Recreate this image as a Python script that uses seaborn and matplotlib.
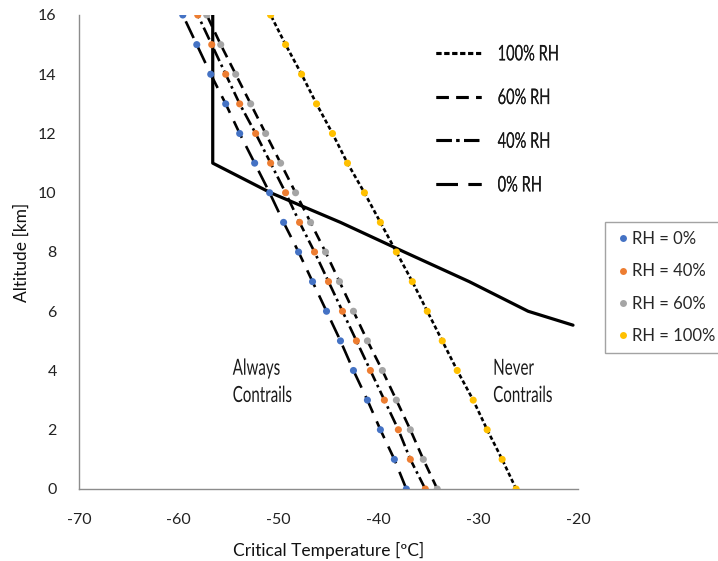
import seaborn as sns
import matplotlib.pyplot as plt
from matplotlib.lines import Line2D
from matplotlib.patheffects import AbstractPathEffect
from matplotlib.transforms import Affine2D

# Critical (Schmidt-Appleman) temperature vs altitude for several relative humidities
altitude_km = [0, 1, 2, 3, 4, 5, 6, 7, 8, 9, 10, 11, 12, 13, 14, 15, 16]
t_crit_rh0 = [-37.2, -38.4, -39.8, -41.1, -42.5, -43.8, -45.2, -46.6, -48.0,
              -49.5, -50.9, -52.4, -53.9, -55.3, -56.8, -58.2, -59.6]
t_crit_rh40 = [-35.3, -36.8, -38.0, -39.4, -40.8, -42.2, -43.6, -45.0, -46.4,
               -47.9, -49.3, -50.8, -52.3, -53.9, -55.3, -56.7, -58.1]
t_crit_rh60 = [-34.1, -35.5, -36.8, -38.2, -39.6, -41.1, -42.5, -43.9, -45.3,
               -46.8, -48.3, -49.8, -51.3, -52.8, -54.3, -55.8, -57.2]
t_crit_rh100 = [-26.2, -27.6, -29.1, -30.5, -32.1, -33.6, -35.1, -36.6, -38.2,
                -39.8, -41.4, -43.1, -44.6, -46.2, -47.7, -49.3, -50.8]

# Ambient temperature profile (standard-atmosphere like, isothermal above 11 km)
ambient_alt_km = [16, 11, 10, 9, 8, 7, 6, 5.53]
ambient_temp = [-56.6, -56.6, -50.8, -43.8, -37.4, -30.9, -25.0, -20.5]

series_labels = ["RH = 0%", "RH = 40%", "RH = 60%", "RH = 100%"]
line_labels = ["100% RH", "60% RH", "40% RH", "0% RH"]
x_ticks = [-70, -60, -50, -40, -30, -20]
y_ticks = [0, 2, 4, 6, 8, 10, 12, 14, 16]

colors = ["#4472C4", "#ED7D31", "#A5A5A5", "#FFC000"]
dash_styles = {
    "0% RH": (0, (7, 3.5)),
    "40% RH": (0, (5, 1.5, 1, 1.5)),
    "60% RH": (0, (4, 2.5)),
    "100% RH": (0, (1.6, 1.0)),
}


class Squeeze(AbstractPathEffect):
    """Draw glyphs horizontally condensed (narrow lettering)."""

    def __init__(self, sx):
        super().__init__()
        self.sx = sx

    def draw_path(self, renderer, gc, tpath, affine, rgbFace=None):
        renderer.draw_path(gc, tpath, Affine2D().scale(self.sx, 1.0) + affine,
                           rgbFace)


sns.set_theme(style="white")
plt.rcParams["font.family"] = ["Lato", "DejaVu Sans"]

fig = plt.figure(figsize=(7.18, 5.61), dpi=100)
ax = fig.add_axes([79 / 718, 72 / 561, 499 / 718, 474 / 561])

series = [
    (t_crit_rh0, "0% RH"),
    (t_crit_rh40, "40% RH"),
    (t_crit_rh60, "60% RH"),
    (t_crit_rh100, "100% RH"),
]

# black patterned curves
for temps, key in series:
    sns.lineplot(x=temps, y=altitude_km, sort=False, estimator=None,
                 errorbar=None, color="black", lw=1.9,
                 linestyle=dash_styles[key], ax=ax, zorder=2)

# ambient profile
sns.lineplot(x=ambient_temp, y=ambient_alt_km, sort=False, estimator=None,
             errorbar=None, color="black", lw=2.3, ax=ax, zorder=2)

# coloured data points
for (temps, _), col in zip(series, colors):
    sns.scatterplot(x=temps, y=altitude_km, color=col, s=26, edgecolor="none",
                    ax=ax, zorder=3)

ax.set_xlim(-70, -20)
ax.set_ylim(0, 16)
ax.set_xticks(x_ticks)
ax.set_yticks(y_ticks)
ax.set_xticklabels([str(v) for v in x_ticks])
ax.set_yticklabels([str(v) for v in y_ticks])
ax.tick_params(axis="both", length=0, labelsize=11.5, colors="#222222")
ax.tick_params(axis="x", pad=17)
ax.tick_params(axis="y", pad=16)

for side in ["top", "right"]:
    ax.spines[side].set_visible(False)
for side in ["left", "bottom"]:
    ax.spines[side].set_color("#8c8c8c")
    ax.spines[side].set_linewidth(1.0)

ax.set_xlabel("Critical Temperature [ºC]", fontsize=12.5, labelpad=11,
              color="#111111")
ax.set_ylabel("Altitude [km]", fontsize=12.5, labelpad=6, color="#111111")

narrow = [Squeeze(0.68)]
ax.text(-54.6, 3.6, "Always\nContrails", fontsize=16, ha="left", va="center",
        linespacing=1.45, color="#1a1a1a", path_effects=narrow)
ax.text(-28.5, 3.6, "Never\nContrails", fontsize=16, ha="left", va="center",
        linespacing=1.45, color="#1a1a1a", path_effects=narrow)

# legend for the line patterns
line_handles = [Line2D([], [], color="black", lw=2.2, linestyle=dash_styles[k])
                for k in line_labels]
leg1 = ax.legend(line_handles, line_labels, loc="upper left",
                 bbox_to_anchor=(0.716, 0.938), frameon=False,
                 fontsize=15.5, handlelength=2.1,
                 handletextpad=0.75, labelspacing=1.1, borderpad=0,
                 borderaxespad=0)
for t in leg1.get_texts():
    t.set_path_effects(narrow)
    t.set_color("#1a1a1a")
ax.add_artist(leg1)

# legend for the coloured markers
marker_handles = [Line2D([], [], marker="o", linestyle="none", markersize=5,
                         markerfacecolor=c, markeredgecolor="none")
                  for c in colors]
leg2 = fig.legend(marker_handles, series_labels, loc="upper left",
                  bbox_to_anchor=(605 / 718, 1 - 222 / 561), frameon=True,
                  fancybox=False, fontsize=12, handlelength=1.05,
                  handletextpad=0.05, labelspacing=0.98, borderpad=0.55,
                  borderaxespad=0)
leg2.get_frame().set_edgecolor("#8c8c8c")
leg2.get_frame().set_linewidth(1.0)

fig.savefig("out.png", dpi=100)
